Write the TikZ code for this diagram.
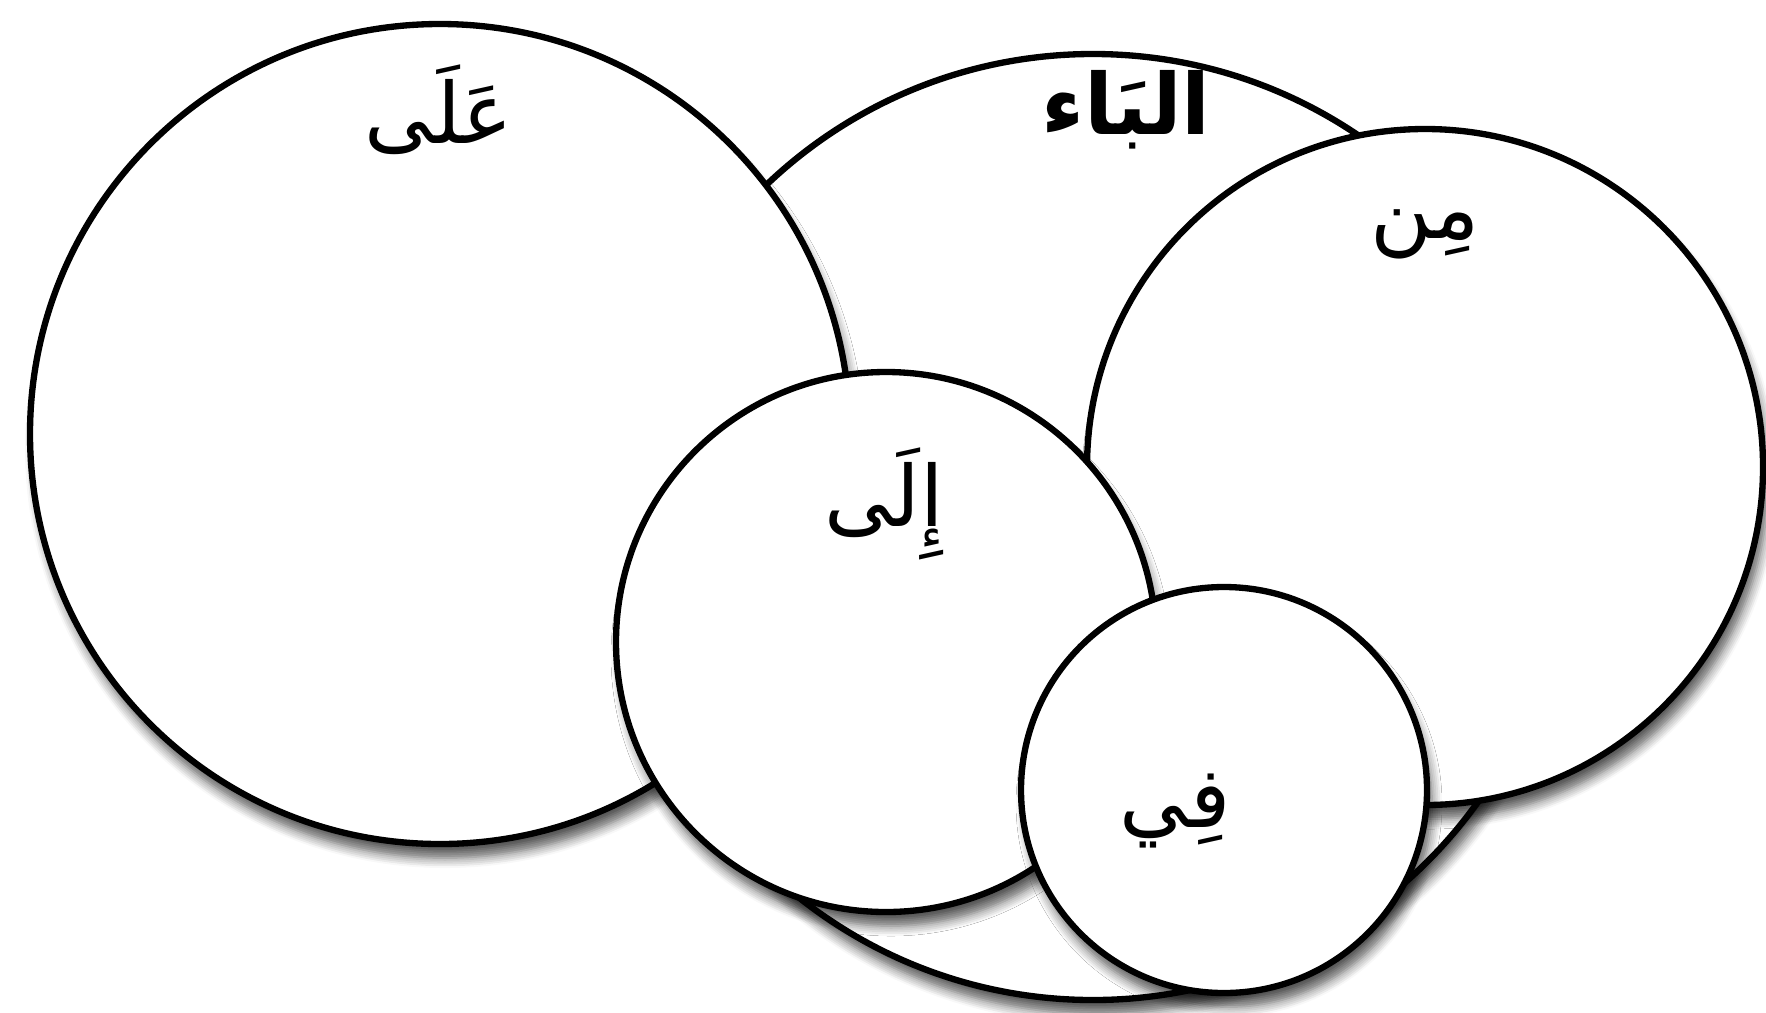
\documentclass[tikz,border=0pt]{standalone}
\usepackage{fontspec}
\usepackage{tikz}
\usetikzlibrary{shadows.blur}
\newfontfamily\arabicfont[Script=Arabic]{DejaVu Sans}
\TeXXeTstate=1

\tikzset{
	setcircle/.style={line width=1.8pt, fill=white,
		blur shadow={shadow xshift=0.5mm, shadow yshift=-1.4mm,
			shadow blur radius=1mm, shadow blur steps=6, shadow opacity=65}},
	setlabel/.style={font=\arabicfont\fontsize{24}{28}\selectfont, inner sep=0pt}
}

\begin{document}
\begin{tikzpicture}[x=0.1mm, y=-0.1mm]
	\useasboundingbox (0,0) rectangle (1766,1012);
	% centres of the sets
	\coordinate (ba)  at (1093,527);
	\coordinate (ala) at (440,434);
	\coordinate (min) at (1425,467);
	\coordinate (ila) at (886,642);
	\coordinate (fi)  at (1224,790);
	% back to front
	\draw[setcircle] (ba)  circle[radius=473];
	\draw[setcircle] (ala) circle[radius=410];
	\draw[setcircle] (min) circle[radius=338];
	\draw[setcircle] (ila) circle[radius=270];
	\draw[setcircle] (fi)  circle[radius=203];
	% labels
	\node[setlabel] (ala-lbl) at (439,110) {\beginR عَلَى\endR};
	\node[setlabel, font=\arabicfont\bfseries\fontsize{24}{28}\selectfont] (ba-lbl) at (1126,110) {\beginR البَاء\endR};
	\node[setlabel] (min-lbl) at (1425,234) {\beginR مِن\endR};
	\node[setlabel] (ila-lbl) at (884,504) {\beginR إِلَى\endR};
	\node[setlabel] (fi-lbl)  at (1175,811) {\beginR فِي\endR};
\end{tikzpicture}
\end{document}
